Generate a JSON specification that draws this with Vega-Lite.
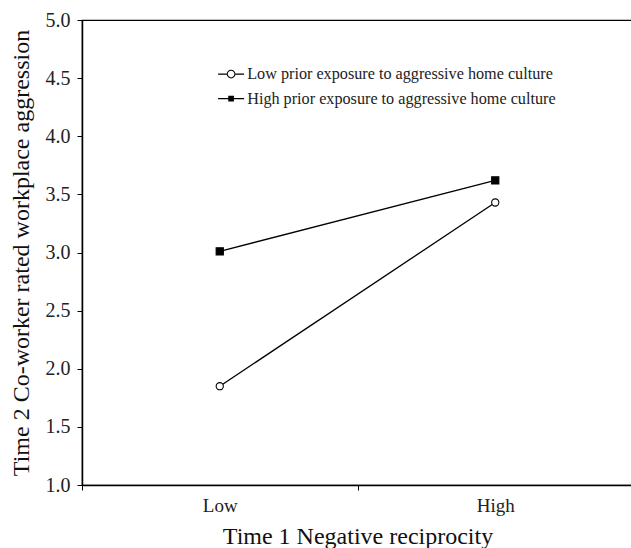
{
  "$schema": "https://vega.github.io/schema/vega-lite/v6.json",
  "width": 551,
  "height": 465,
  "autosize": {"type": "none"},
  "padding": {"left": 82, "top": 20, "right": 0, "bottom": 63},
  "background": "white",
  "config": {
    "view": {"stroke": "black", "strokeWidth": 1.2},
    "font": "Liberation Serif"
  },
  "data": {
    "values": [
      {"recip": "Low", "exposure": "Low prior exposure to aggressive home culture", "value": 1.85},
      {"recip": "High", "exposure": "Low prior exposure to aggressive home culture", "value": 3.43},
      {"recip": "Low", "exposure": "High prior exposure to aggressive home culture", "value": 3.01},
      {"recip": "High", "exposure": "High prior exposure to aggressive home culture", "value": 3.62}
    ]
  },
  "encoding": {
    "x": {
      "field": "recip",
      "type": "nominal",
      "sort": ["Low", "High"],
      "scale": {"paddingInner": 0, "paddingOuter": 0},
      "axis": {
        "title": "Time 1 Negative reciprocity",
        "titleFont": "Liberation Serif",
        "titleFontSize": 24,
        "titleFontWeight": "normal",
        "titleColor": "#111",
        "titlePadding": 9,
        "labelAngle": 0,
        "labelFont": "Liberation Serif",
        "labelFontSize": 19,
        "labelColor": "#222",
        "labelPadding": 6,
        "tickBand": "extent",
        "tickSize": 5,
        "tickColor": "black",
        "domainColor": "black",
        "domainWidth": 1.5,
        "grid": false
      }
    },
    "y": {
      "field": "value",
      "type": "quantitative",
      "scale": {"domain": [1, 5], "nice": false},
      "axis": {
        "title": "Time 2 Co-worker rated workplace aggression",
        "titleFont": "Liberation Serif",
        "titleFontSize": 24,
        "titleFontWeight": "normal",
        "titleColor": "#111",
        "titlePadding": 12,
        "values": [1, 1.5, 2, 2.5, 3, 3.5, 4, 4.5, 5],
        "format": ".1f",
        "labelFont": "Liberation Serif",
        "labelFontSize": 20,
        "labelColor": "#222",
        "labelPadding": 7,
        "tickSize": 5,
        "tickColor": "black",
        "domainColor": "black",
        "domainWidth": 1.5,
        "grid": false
      }
    }
  },
  "layer": [
    {
      "mark": {"type": "line", "color": "black", "strokeWidth": 1.3},
      "encoding": {"detail": {"field": "exposure"}}
    },
    {
      "mark": {"type": "point", "filled": true, "stroke": "black", "strokeWidth": 1.1, "opacity": 1, "size": 52},
      "encoding": {
        "shape": {
          "field": "exposure",
          "type": "nominal",
          "scale": {
            "domain": ["Low prior exposure to aggressive home culture", "High prior exposure to aggressive home culture"],
            "range": ["circle", "square"]
          },
          "legend": null
        },
        "fill": {
          "field": "exposure",
          "type": "nominal",
          "scale": {
            "domain": ["Low prior exposure to aggressive home culture", "High prior exposure to aggressive home culture"],
            "range": ["white", "black"]
          },
          "legend": null
        }
      }
    },
    {
      "transform": [{"filter": "false"}],
      "mark": {"type": "point", "filled": true, "color": "black", "strokeWidth": 0, "opacity": 1},
      "encoding": {
        "shape": {
          "field": "exposure",
          "type": "nominal",
          "scale": {
            "domain": ["Low prior exposure to aggressive home culture", "High prior exposure to aggressive home culture"],
            "range": [
              "M-1.73,-0.08H-0.56V0.08H-1.73Z M0.56,-0.08H1.73V0.08H0.56Z M-0.58,0A0.58,0.58 0 1,1 0.58,0A0.58,0.58 0 1,1 -0.58,0Z M-0.44,0A0.44,0.44 0 1,0 0.44,0A0.44,0.44 0 1,0 -0.44,0Z",
              "M-1.73,-0.08H1.73V0.08H-1.73Z M-0.38,-0.38H0.38V0.38H-0.38Z"
            ]
          },
          "legend": {
            "title": null,
            "orient": "none",
            "legendX": 141,
            "legendY": 46,
            "padding": 0,
            "symbolSize": 225,
            "symbolFillColor": "black",
            "symbolStrokeWidth": 0,
            "labelFont": "Liberation Serif",
            "labelFontSize": 16.2,
            "labelLimit": 600,
            "labelColor": "#222",
            "labelOffset": 8,
            "rowPadding": 7.5
          }
        }
      }
    }
  ],
  "resolve": {"scale": {"shape": "independent"}}
}
